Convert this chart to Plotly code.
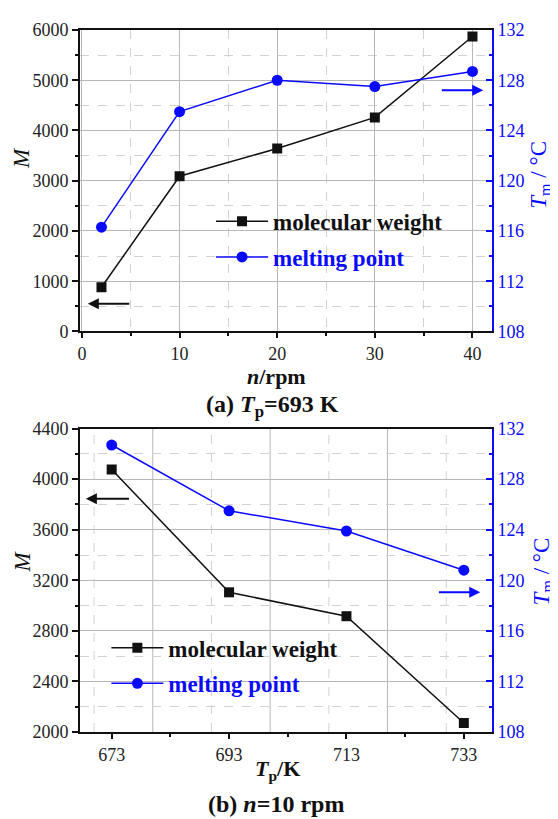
import plotly.graph_objects as go

# ---------------- data ----------------
n_rpm = [2, 10, 20, 30, 40]
mw_a = [880, 3090, 3640, 4260, 5870]
tm_a = [116.3, 125.5, 128.0, 127.5, 128.7]

tp_k = [673, 693, 713, 733]
mw_b = [4076, 3105, 2916, 2071]
tm_b = [130.7, 125.5, 123.9, 120.8]

tick_b = [673, 693, 713, 733]
grid_b_solid = [680, 700, 720]
grid_b_dash = [670, 690, 710, 730]

# ---------------- styles ----------------
FONT = "Liberation Serif"
BLUE = "#0a0aff"
BLACK = "#111111"
GRID = "#b8b8b8"
GRID_MINOR = "#d2d2d2"

fig = go.Figure()

# top panel
fig.add_trace(go.Scatter(x=n_rpm, y=mw_a, mode="lines+markers", name="molecular weight",
                         line=dict(color=BLACK, width=1.5),
                         marker=dict(symbol="square", size=10, color=BLACK),
                         xaxis="x", yaxis="y", legend="legend"))
fig.add_trace(go.Scatter(x=n_rpm, y=tm_a, mode="lines+markers", name="melting point",
                         line=dict(color=BLUE, width=1.5),
                         marker=dict(symbol="circle", size=11, color=BLUE),
                         xaxis="x", yaxis="y2", legend="legend2"))
# bottom panel
fig.add_trace(go.Scatter(x=tp_k, y=mw_b, mode="lines+markers", name="molecular weight",
                         line=dict(color=BLACK, width=1.5),
                         marker=dict(symbol="square", size=10, color=BLACK),
                         xaxis="x2", yaxis="y3", legend="legend3"))
fig.add_trace(go.Scatter(x=tp_k, y=tm_b, mode="lines+markers", name="melting point",
                         line=dict(color=BLUE, width=1.5),
                         marker=dict(symbol="circle", size=11, color=BLUE),
                         xaxis="x2", yaxis="y4", legend="legend4"))

tickfont = dict(family=FONT, size=18, color="#222222")
tickfont_b = dict(family=FONT, size=18, color=BLUE)

top_dom = [0.5706, 1.0]
bot_dom = [0.0, 0.4322]

common_x = dict(showline=True, linecolor=BLACK, linewidth=2, mirror=True,
                ticks="outside", ticklen=5, tickwidth=1.5, tickcolor=BLACK,
                tickfont=tickfont, zeroline=False)
common_yl = dict(showline=True, linecolor=BLACK, linewidth=2,
                 ticks="outside", ticklen=6, tickwidth=1.5, tickcolor=BLACK,
                 tickfont=tickfont, zeroline=False)
common_yr = dict(showline=True, linecolor=BLUE, linewidth=2, side="right",
                 ticks="inside", ticklen=6, tickwidth=1.5, tickcolor=BLUE,
                 tickfont=tickfont_b, zeroline=False, showgrid=False,
                 range=[108, 132], dtick=4, tick0=108,
                 minor=dict(dtick=2, tick0=108, ticks="inside", ticklen=3, tickcolor=BLUE, showgrid=False))

# page body has an 8px margin, so the figure is 8px smaller and left/top margins shifted
fig.update_layout(
    width=550, height=811,
    margin=dict(l=72, r=66, t=16, b=87),
    paper_bgcolor="white", plot_bgcolor="white",
    showlegend=True,
    font=dict(family=FONT),
    xaxis=dict(domain=[0, 1], anchor="y", range=[-0.2, 42], tick0=0, dtick=10,
               showgrid=True, gridcolor=GRID, gridwidth=1,
               minor=dict(dtick=5, tick0=0, ticks="outside", ticklen=3, tickcolor=BLACK,
                          showgrid=True, gridcolor=GRID_MINOR, griddash="dash", gridwidth=1),
               **common_x),
    yaxis=dict(domain=top_dom, anchor="x", range=[0, 6000], dtick=1000, tick0=0,
               showgrid=True, gridcolor=GRID, gridwidth=1,
               minor=dict(dtick=500, tick0=0, ticks="outside", ticklen=3, tickcolor=BLACK,
                          showgrid=True, gridcolor=GRID_MINOR, griddash="dash", gridwidth=1),
               **common_yl),
    yaxis2=dict(domain=top_dom, anchor="x", overlaying="y", **common_yr),
    xaxis2=dict(domain=[0, 1], anchor="y3", range=[667.6, 737.8],
                tickmode="array", tickvals=tick_b, showgrid=False,
                minor=dict(tickmode="array", tickvals=[683, 703, 723], ticks="outside",
                           ticklen=3, tickcolor=BLACK, showgrid=False),
                **common_x),
    yaxis3=dict(domain=bot_dom, anchor="x2", range=[2000, 4400], dtick=400, tick0=2000,
                showgrid=True, gridcolor=GRID, gridwidth=1,
                minor=dict(dtick=200, tick0=2000, ticks="outside", ticklen=3, tickcolor=BLACK,
                           showgrid=True, gridcolor=GRID_MINOR, griddash="dash", gridwidth=1),
                **common_yl),
    yaxis4=dict(domain=bot_dom, anchor="x2", overlaying="y3", **common_yr),
)

legend_common = dict(xanchor="left", yanchor="middle", bgcolor="rgba(0,0,0,0)",
                     borderwidth=0, itemwidth=52, tracegroupgap=0)
fig.update_layout(
    legend=dict(x=0.318, y=0.7274, font=dict(family=FONT, size=23, color=BLACK), **legend_common),
    legend2=dict(x=0.318, y=0.6766, font=dict(family=FONT, size=23, color=BLUE), **legend_common),
    legend3=dict(x=0.064, y=0.120, font=dict(family=FONT, size=23, color=BLACK), **legend_common),
    legend4=dict(x=0.064, y=0.0692, font=dict(family=FONT, size=23, color=BLUE), **legend_common),
)
for tr in fig.data:
    tr.name = "<b>" + tr.name + "</b>"

# gridlines of bottom panel (offset from tick positions)
for gx in grid_b_solid:
    fig.add_shape(type="line", xref="x2", yref="y3 domain", x0=gx, x1=gx, y0=0, y1=1,
                  line=dict(color=GRID, width=1), layer="below")
for gx in grid_b_dash:
    fig.add_shape(type="line", xref="x2", yref="y3 domain", x0=gx, x1=gx, y0=0, y1=1,
                  line=dict(color=GRID_MINOR, width=1, dash="dash"), layer="below")

# arrows pointing to axes
arrows = [
    dict(x=0.6, y=553, ax=5, ay=553, xref="x", yref="y", axref="x", ayref="y", color=BLACK),
    dict(x=41.1, y=127.2, ax=36.7, ay=127.2, xref="x", yref="y2", axref="x", ayref="y2", color=BLUE),
    dict(x=668.6, y=3845, ax=676.2, ay=3845, xref="x2", yref="y3", axref="x2", ayref="y3", color=BLACK),
    dict(x=735.8, y=119.05, ax=728.5, ay=119.05, xref="x2", yref="y4", axref="x2", ayref="y4", color=BLUE),
]
for a in arrows:
    fig.add_annotation(x=a["x"], y=a["y"], ax=a["ax"], ay=a["ay"], xref=a["xref"], yref=a["yref"],
                       axref=a["axref"], ayref=a["ayref"], text="", showarrow=True,
                       arrowhead=2, arrowsize=1.1, arrowwidth=2, arrowcolor=a["color"])

texts = [
    dict(x=-0.1408, y=0.8178, text="<i>M</i>", angle=-90, size=23, color=BLACK),
    dict(x=-0.1408, y=0.2429, text="<i>M</i>", angle=-90, size=23, color=BLACK),
    dict(x=1.1165, y=0.7938, text="<i>T</i><sub>m</sub> / °C", angle=-90, size=23, color=BLUE),
    dict(x=1.1238, y=0.2288, text="<i>T</i><sub>m</sub> / °C", angle=-90, size=23, color=BLUE),
    dict(x=0.4774, y=0.5071, text="<b><i>n</i>/rpm</b>", angle=0, size=22, color=BLACK),
    dict(x=0.468, y=0.4647, text="<b>(a) <i>T</i><sub>p</sub>=693 K</b>", angle=0, size=24, color=BLACK),
    dict(x=0.48, y=-0.0537, text="<b><i>T</i><sub>p</sub>/K</b>", angle=0, size=22, color=BLACK),
    dict(x=0.475, y=-0.1031, text="<b>(b) <i>n</i>=10 rpm</b>", angle=0, size=24, color=BLACK),
]
for t in texts:
    fig.add_annotation(x=t["x"], y=t["y"], xref="paper", yref="paper", text=t["text"],
                       showarrow=False, textangle=t["angle"], xanchor="center", yanchor="middle",
                       font=dict(family=FONT, size=t["size"], color=t["color"]))

fig.write_html("out.html")
